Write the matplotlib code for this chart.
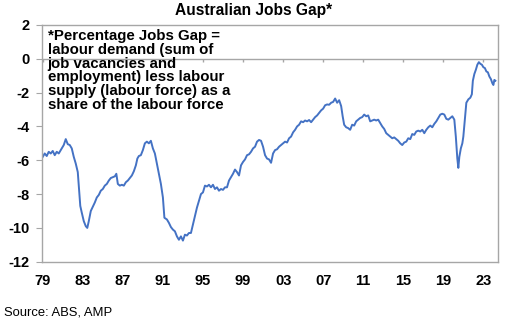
import numpy as np
import matplotlib.pyplot as plt

plt.rcParams['font.family'] = ['Liberation Sans', 'DejaVu Sans']

# Percentage jobs gap (year fraction, %)
years = np.array([
    1979.0, 1979.2, 1979.4, 1979.6, 1979.8, 1980.0, 1980.2, 1980.4, 1980.6, 1980.9,
    1981.1, 1981.3, 1981.5, 1981.7, 1981.9, 1982.1, 1982.3, 1982.5, 1982.6, 1982.75,
    1982.9, 1983.1, 1983.3, 1983.45, 1983.6, 1983.8, 1984.0, 1984.2, 1984.4, 1984.6,
    1984.8, 1985.0, 1985.2, 1985.4, 1985.6, 1985.8, 1986.0, 1986.2, 1986.35, 1986.5,
    1986.7, 1986.9, 1987.1, 1987.3, 1987.5, 1987.7, 1987.9, 1988.1, 1988.3, 1988.45,
    1988.6, 1988.8, 1989.0, 1989.2, 1989.4, 1989.6, 1989.8, 1990.0, 1990.2, 1990.4,
    1990.6, 1990.8, 1991.0, 1991.15, 1991.4, 1991.6, 1991.8, 1992.0, 1992.2, 1992.4,
    1992.6, 1992.8, 1993.0, 1993.2, 1993.4, 1993.6, 1993.8, 1994.0, 1994.2, 1994.4,
    1994.6, 1994.8, 1995.0, 1995.2, 1995.4, 1995.6, 1995.8, 1996.0, 1996.2, 1996.4,
    1996.6, 1996.8, 1997.0, 1997.2, 1997.4, 1997.6, 1997.8, 1998.0, 1998.2, 1998.4,
    1998.6, 1998.8, 1999.0, 1999.2, 1999.4, 1999.6, 1999.8, 2000.0, 2000.2, 2000.4,
    2000.6, 2000.8, 2001.0, 2001.2, 2001.4, 2001.6, 2001.8, 2002.0, 2002.2, 2002.4,
    2002.6, 2002.8, 2003.0, 2003.2, 2003.4, 2003.6, 2003.8, 2004.0, 2004.2, 2004.4,
    2004.6, 2004.8, 2005.0, 2005.2, 2005.4, 2005.6, 2005.8, 2006.0, 2006.2, 2006.4,
    2006.6, 2006.8, 2007.0, 2007.2, 2007.4, 2007.6, 2007.8, 2008.0, 2008.2, 2008.4,
    2008.6, 2008.8, 2008.95, 2009.1, 2009.3, 2009.5, 2009.7, 2009.9, 2010.1, 2010.3,
    2010.5, 2010.7, 2010.9, 2011.1, 2011.3, 2011.5, 2011.7, 2011.9, 2012.1, 2012.3,
    2012.5, 2012.7, 2012.9, 2013.1, 2013.3, 2013.5, 2013.7, 2013.9, 2014.1, 2014.3,
    2014.5, 2014.7, 2014.9, 2015.1, 2015.3, 2015.5, 2015.7, 2015.9, 2016.1, 2016.3,
    2016.5, 2016.7, 2016.9, 2017.1, 2017.3, 2017.5, 2017.7, 2017.9, 2018.1, 2018.3,
    2018.5, 2018.7, 2018.9, 2019.1, 2019.3, 2019.5, 2019.7, 2019.9, 2020.1, 2020.25,
    2020.4, 2020.5, 2020.6, 2020.75, 2020.9, 2021.0, 2021.15, 2021.3, 2021.5, 2021.7,
    2021.85, 2021.95, 2022.1, 2022.25, 2022.4, 2022.55, 2022.7, 2022.85, 2023.0, 2023.15,
    2023.3, 2023.45, 2023.6, 2023.75, 2023.9, 2024.0, 2024.1, 2024.2,
])
gap = np.array([
    -5.8, -5.6, -5.75, -5.5, -5.6, -5.45, -5.7, -5.5, -5.6, -5.3,
    -5.1, -4.75, -5.05, -5.1, -5.3, -5.8, -6.2, -6.7, -7.5, -8.7,
    -9.1, -9.6, -9.9, -10.0, -9.6, -9.0, -8.75, -8.5, -8.2, -8.05,
    -7.8, -7.7, -7.5, -7.4, -7.2, -7.05, -7.0, -6.95, -6.8, -7.4,
    -7.5, -7.45, -7.5, -7.3, -7.2, -7.05, -6.9, -6.65, -6.3, -5.9,
    -5.75, -5.7, -5.4, -5.0, -4.9, -5.0, -4.85, -5.3, -5.6, -6.2,
    -6.8, -7.4, -8.2, -9.4, -9.5, -9.7, -9.95, -10.1, -10.2, -10.5,
    -10.7, -10.5, -10.75, -10.4, -10.45, -10.3, -10.3, -9.8, -9.3, -8.8,
    -8.4, -8.0, -7.9, -7.5, -7.55, -7.45, -7.6, -7.45, -7.7, -7.6,
    -7.8, -7.7, -7.75, -7.6, -7.6, -7.2, -7.0, -6.8, -6.55, -6.7,
    -6.9, -6.3, -6.1, -5.95, -5.7, -5.65, -5.5, -5.3, -5.2, -4.9,
    -4.8, -4.85, -5.2, -5.7, -5.9, -5.95, -6.15, -5.6, -5.4, -5.35,
    -5.2, -5.1, -5.0, -4.9, -4.95, -4.7, -4.6, -4.35, -4.2, -4.0,
    -3.9, -3.7, -3.75, -3.65, -3.7, -3.62, -3.75, -3.6, -3.45, -3.35,
    -3.2, -3.05, -2.95, -2.75, -2.7, -2.72, -2.6, -2.55, -2.35, -2.6,
    -2.45, -2.8, -3.4, -3.9, -4.05, -4.1, -4.2, -3.9, -3.95, -3.7,
    -3.6, -3.5, -3.45, -3.3, -3.4, -3.35, -3.7, -3.65, -3.6, -3.65,
    -3.6, -3.8, -4.0, -4.15, -4.4, -4.5, -4.6, -4.7, -4.65, -4.75,
    -4.85, -5.0, -5.1, -4.95, -4.9, -4.7, -4.75, -4.45, -4.5, -4.3,
    -4.25, -4.3, -4.2, -4.4, -4.2, -4.05, -3.95, -4.05, -3.85, -3.7,
    -3.5, -3.3, -3.25, -3.3, -3.55, -3.6, -3.5, -3.4, -3.6, -4.6,
    -5.9, -6.45, -5.8, -5.3, -5.0, -4.6, -3.6, -2.6, -2.4, -2.3,
    -2.1, -1.3, -0.9, -0.65, -0.35, -0.2, -0.3, -0.35, -0.5, -0.55,
    -0.75, -0.8, -1.05, -1.2, -1.45, -1.55, -1.25, -1.3,
])

tick_years = np.arange(1979, 2024, 4)
tick_labels = [f"{y % 100:02d}" for y in tick_years]
y_ticks = np.arange(-12, 3, 2)

note = ("*Percentage Jobs Gap =\nlabour demand (sum of\njob vacancies and\n"
        "employment) less labour\nsupply (labour force) as a\nshare of the labour force")

fig = plt.figure(figsize=(5.17, 3.28), dpi=100)
ax = fig.add_axes([0.0807, 0.202, 0.8833, 0.722])

ax.plot(years, gap, color='#4472C4', lw=1.4)

grey = '#A6A6A6'
ax.axhline(0, color=grey, lw=1.0, zorder=1)
# small tick marks hanging off the zero line
ax.vlines(tick_years, -0.2, 0, color=grey, lw=1.0, zorder=1)

ax.set_xlim(1978.9, 2024.5)
ax.set_ylim(-12, 2)
ax.set_xticks(tick_years)
ax.set_xticklabels(tick_labels, fontweight='bold', fontsize=10.5)
ax.set_yticks(y_ticks)
ax.set_yticklabels([str(v) for v in y_ticks], fontweight='bold', fontsize=10.5)
ax.tick_params(axis='x', length=0, pad=8.5)
ax.tick_params(axis='y', length=4, color=grey, pad=5)
for s in ax.spines.values():
    s.set_color(grey)
    s.set_linewidth(1.0)

ax.text(0.013, 0.982, note, transform=ax.transAxes, ha='left', va='top',
        fontsize=10.8, fontweight='bold', linespacing=0.97)

fig.text(0.49, 0.968, "Australian Jobs Gap*", ha='center', va='center',
         fontsize=11.2, fontweight='bold')
fig.text(0.008, 0.048, "Source: ABS, AMP", ha='left', va='center', fontsize=9.4)

fig.savefig('out.png', dpi=100)
